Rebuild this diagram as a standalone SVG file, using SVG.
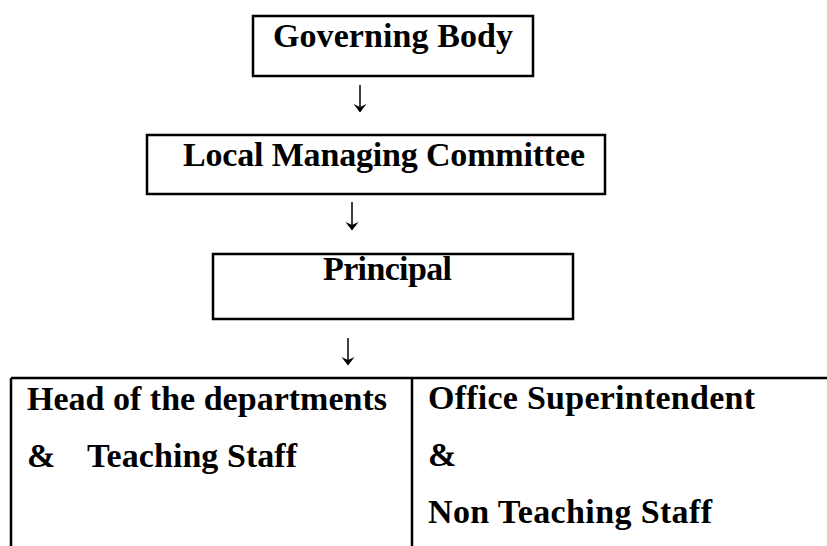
<svg xmlns="http://www.w3.org/2000/svg" width="827" height="546" viewBox="0 0 827 546">
<style>
.box{fill:#fff;stroke:#000;stroke-width:2.5}
.ln{stroke:#000;stroke-width:2.5;fill:none}
.t{font-family:"Liberation Serif","Times New Roman",serif;font-weight:bold;font-size:34px;fill:#000}
.ar{stroke:#000;stroke-width:1.5;fill:none}
.ah{fill:#000;stroke:none}
</style>
<rect width="827" height="546" fill="#fff"/>
<g id="governing-body">
<rect class="box" x="253" y="16" width="280" height="60"/>
<text class="t" x="273" y="47" textLength="240">Governing Body</text>
</g>
<g id="local-managing-committee">
<rect class="box" x="147" y="135" width="458" height="59"/>
<text class="t" x="183" y="166" textLength="402">Local Managing Committee</text>
</g>
<g id="principal">
<rect class="box" x="213" y="254" width="360" height="65"/>
<text class="t" x="323" y="280" textLength="129">Principal</text>
</g>
<g id="staff-table">
<path class="ln" d="M11 378 H827 M11 378 V546 M412 378 V546"/>
</g>
<g id="teaching">
<text class="t" x="27" y="410" textLength="360">Head of the departments</text>
<text class="t" x="27" y="467">&amp;</text>
<text class="t" x="87" y="467" textLength="210">Teaching Staff</text>
</g>
<g id="non-teaching">
<text class="t" x="428" y="409" textLength="327">Office Superintendent</text>
<text class="t" x="428" y="466">&amp;</text>
<text class="t" x="428" y="523" textLength="284">Non Teaching Staff</text>
</g>
<g id="connectors">
<line class="ar" x1="360" y1="85" x2="360" y2="110"/>
<path class="ah" d="M353.5 104 L360 112.5 L366.5 104 L360 107 Z"/>
<line class="ar" x1="352" y1="202" x2="352" y2="228"/>
<path class="ah" d="M345.5 222 L352 230.5 L358.5 222 L352 225 Z"/>
<line class="ar" x1="348" y1="338" x2="348" y2="363"/>
<path class="ah" d="M341.5 357 L348 365.5 L354.5 357 L348 360 Z"/>
</g>
</svg>
